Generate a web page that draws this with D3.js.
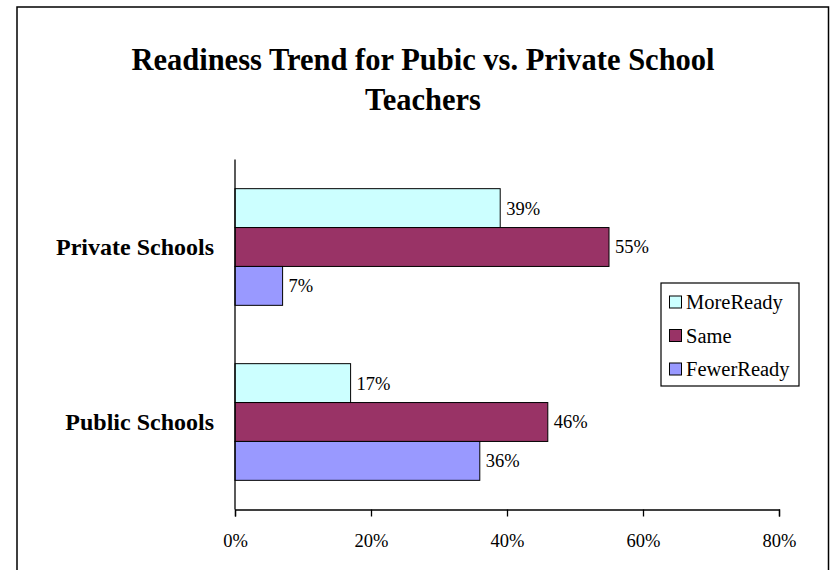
<!DOCTYPE html>
<html><head><meta charset="utf-8">
<script src="https://cdn.jsdelivr.net/npm/d3@7"></script>
<style>body{margin:0;background:#fff}svg{display:block}text{font-family:"Liberation Serif","Times New Roman",serif}</style>
</head><body><svg id="c" width="832" height="570"></svg>
<script>
const categories = ["Private Schools", "Public Schools"];
const seriesNames = ["MoreReady", "Same", "FewerReady"];
const moreReady = [0.39, 0.17];
const same = [0.55, 0.46];
const fewerReady = [0.07, 0.36];
const tickValues = [0, 0.2, 0.4, 0.6, 0.8];
const colors = ["#CCFFFF", "#993366", "#9999FF"];

const seriesValues = [moreReady, same, fewerReady];
const data = [];
categories.forEach((c, i) => seriesNames.forEach((s, j) => data.push({cat: c, ser: s, v: seriesValues[j][i], j})));

const svg = d3.select("#c");
svg.append("rect").attr("x", 17).attr("y", 7).attr("width", 811.5).attr("height", 580)
  .attr("fill", "#fff").attr("stroke", "#000").attr("stroke-width", 1.5);

svg.append("text").attr("x", 423).attr("y", 70).attr("text-anchor", "middle")
  .attr("font-size", 30.5).attr("font-weight", "bold").text("Readiness Trend for Pubic vs. Private School");
svg.append("text").attr("x", 423).attr("y", 110).attr("text-anchor", "middle")
  .attr("font-size", 30.5).attr("font-weight", "bold").text("Teachers");

const x = d3.scaleLinear().domain([0, 0.8]).range([235, 779]);
const y = d3.scaleBand().domain(categories).range([159.5, 509.5]).padding(0);
const yi = d3.scaleBand().domain(seriesNames).range([0, y.bandwidth()]).paddingInner(0).paddingOuter(0.75);

svg.selectAll("rect.bar").data(data).join("rect").attr("class", "bar")
  .attr("x", x(0)).attr("y", d => y(d.cat) + yi(d.ser))
  .attr("width", d => x(d.v) - x(0)).attr("height", yi.bandwidth())
  .attr("fill", d => colors[d.j]).attr("stroke", "#000").attr("stroke-width", 1);

svg.selectAll("text.val").data(data).join("text").attr("class", "val")
  .attr("x", d => x(d.v) + 6).attr("y", d => y(d.cat) + yi(d.ser) + yi.bandwidth() / 2)
  .attr("dy", "0.35em").attr("font-size", 18.5).text(d => d3.format(".0%")(d.v));

const xAxis = svg.append("g").attr("transform", "translate(0,509.5)")
  .call(d3.axisBottom(x).tickValues(tickValues).tickFormat(d3.format(".0%")).tickSize(7).tickPadding(17));
xAxis.select(".domain").attr("stroke", "#000").attr("stroke-width", 1.3);
xAxis.selectAll(".tick line").attr("stroke", "#000").attr("stroke-width", 1.3);
xAxis.selectAll(".tick text").attr("font-size", 18.5).attr("font-family", "Liberation Serif").attr("fill", "#000");

svg.append("line").attr("x1", x(0)).attr("x2", x(0)).attr("y1", 159.5).attr("y2", 509.5)
  .attr("stroke", "#000").attr("stroke-width", 1.3);

svg.selectAll("text.cat").data(categories).join("text").attr("class", "cat")
  .attr("x", 214).attr("y", d => y(d) + y.bandwidth() / 2).attr("dy", "0.35em")
  .attr("text-anchor", "end").attr("font-size", 24).attr("font-weight", "bold").text(d => d);

const lg = svg.append("g");
lg.append("rect").attr("x", 661).attr("y", 283).attr("width", 138).attr("height", 103)
  .attr("fill", "#fff").attr("stroke", "#000").attr("stroke-width", 1.2);
seriesNames.forEach((s, j) => {
  const cy = 302 + j * 33.5;
  lg.append("rect").attr("x", 669.5).attr("y", cy - 6).attr("width", 12).attr("height", 12)
    .attr("fill", colors[j]).attr("stroke", "#000").attr("stroke-width", 1);
  lg.append("text").attr("x", 686).attr("y", cy).attr("dy", "0.35em").attr("font-size", 20.5).text(s);
});
</script></body></html>
